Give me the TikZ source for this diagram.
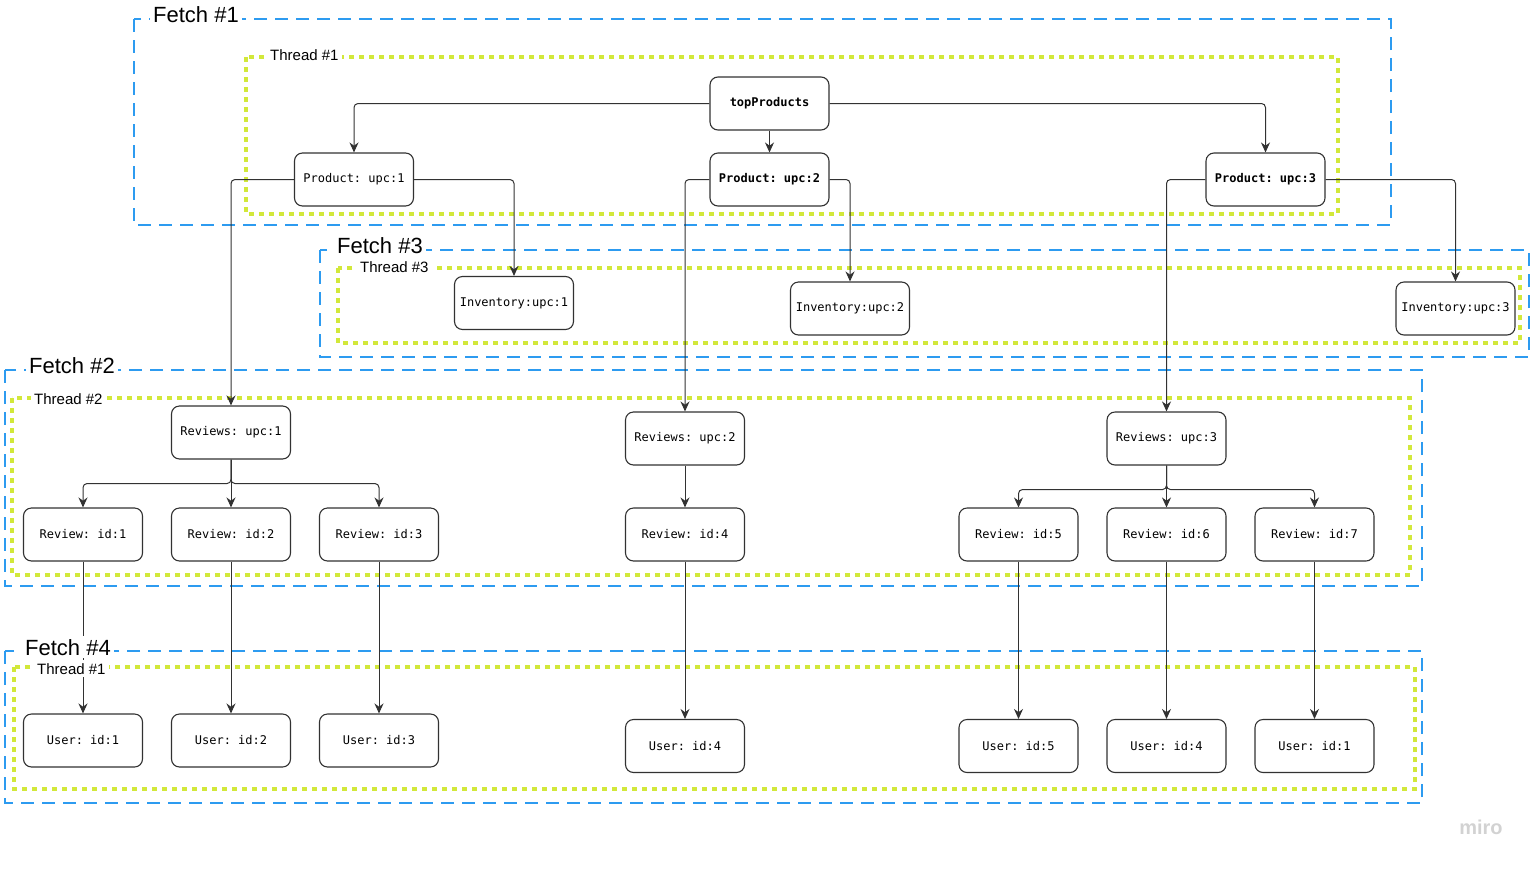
\documentclass[tikz,border=0pt]{standalone}
\usepackage{fontspec}
\setmainfont{Liberation Sans}
\setmonofont{DejaVu Sans Mono}
\usetikzlibrary{arrows.meta}
\definecolor{fetchblue}{RGB}{45,155,240}
\definecolor{threadgreen}{RGB}{210,232,58}
\definecolor{wire}{RGB}{50,50,50}

\begin{document}
\begin{tikzpicture}[x=1pt, y=-1pt, >={Stealth[length=10pt,width=9pt]}, node distance=148pt]
	\tikzstyle{field} = [draw=wire, line width=1.1pt, rounded corners=8pt, fill=white, minimum width=119pt, minimum height=53pt, inner sep=2pt, font=\ttfamily\fontsize{12}{14}\selectfont]
	\tikzstyle{keyfield} = [field, font=\ttfamily\bfseries\fontsize{12}{14}\selectfont]
	\tikzstyle{fetch} = [draw=fetchblue, line width=2.5pt, dash pattern=on 13pt off 8pt]
	\tikzstyle{thread} = [draw=threadgreen, line width=4.5pt, dash pattern=on 5pt off 5pt]
	\tikzstyle{caption} = [fill=white, anchor=base west, inner sep=3pt]
	\tikzstyle{elbow} = [to path={-| (\tikztotarget) \tikztonodes}]
	\tikzstyle{branch} = [to path={-- ++(0,24) -| (\tikztotarget) \tikztonodes}]
	\useasboundingbox (0,0) rectangle (1531,868);
	% fetch and thread frames
	\draw[fetch] (134,19) rectangle (1391,225);
	\draw[thread] (246,57) rectangle (1338,214);
	\draw[fetch] (320,250) rectangle (1529,357);
	\draw[thread] (338,268) rectangle (1520,343);
	\draw[fetch] (5,370) rectangle (1422,586);
	\draw[thread] (12,398) rectangle (1410,575);
	\draw[fetch] (5,651) rectangle (1422,803);
	\draw[thread] (14,667) rectangle (1415,789);
	% fields
	\node[keyfield] (T) at (769.5,103.5) {topProducts};
	\node[field] (P1) at (354,179.5) {Product: upc:1};
	\node[keyfield] (P2) at (769.5,179.5) {Product: upc:2};
	\node[keyfield] (P3) at (1265.5,179.5) {Product: upc:3};
	\node[field] (I1) at (514,303) {Inventory:upc:1};
	\node[field] (I2) at (850,308.5) {Inventory:upc:2};
	\node[field] (I3) at (1455.5,308.5) {Inventory:upc:3};
	\node[field] (R1) at (231,432.5) {Reviews: upc:1};
	\node[field] (R2) at (685,438.5) {Reviews: upc:2};
	\node[field] (R3) at (1166.5,438.5) {Reviews: upc:3};
	\node[field] (V1) at (83,534.5) {Review: id:1};
	\node[field, right of=V1] (V2) {Review: id:2};
	\node[field, right of=V2] (V3) {Review: id:3};
	\node[field] (V4) at (685,534.5) {Review: id:4};
	\node[field] (V5) at (1018.5,534.5) {Review: id:5};
	\node[field, right of=V5] (V6) {Review: id:6};
	\node[field, right of=V6] (V7) {Review: id:7};
	\node[field] (U1) at (83,740.5) {User: id:1};
	\node[field, right of=U1] (U2) {User: id:2};
	\node[field, right of=U2] (U3) {User: id:3};
	\node[field] (U4) at (685,746) {User: id:4};
	\node[field] (U5) at (1018.5,746) {User: id:5};
	\node[field, right of=U5] (U6) {User: id:4};
	\node[field, right of=U6] (U7) {User: id:1};
	% resolution order
	\path[->, color=wire, line width=1pt, rounded corners=4pt]
	  (T.west) edge[elbow] (P1.north)
	  (T.south) edge (P2.north)
	  (T.east) edge[elbow] (P3.north)
	  (P1.west) edge[elbow] (R1.north)
	  (P1.east) edge[elbow] (I1.north)
	  (P2.west) edge[elbow] (R2.north)
	  (P2.east) edge[elbow] (I2.north)
	  (P3.west) edge[elbow] (R3.north)
	  (P3.east) edge[elbow] (I3.north)
	  (R1.south) edge[branch] (V1.north)
	  (R1.south) edge (V2.north)
	  (R1.south) edge[branch] (V3.north)
	  (R2.south) edge (V4.north)
	  (R3.south) edge[branch] (V5.north)
	  (R3.south) edge (V6.north)
	  (R3.south) edge[branch] (V7.north)
	  (V1.south) edge (U1.north)
	  (V2.south) edge (U2.north)
	  (V3.south) edge (U3.north)
	  (V4.south) edge (U4.north)
	  (V5.south) edge (U5.north)
	  (V6.south) edge (U6.north)
	  (V7.south) edge (U7.north)
	  ;
	% frame captions
	\node[caption, font=\fontsize{22}{26}\selectfont] (F1) at (150,22) {Fetch \#1};
	\node[caption, font=\fontsize{15}{18}\selectfont] (H1) at (267,60) {Thread \#1};
	\node[caption, font=\fontsize{22}{26}\selectfont] (F3) at (334,253) {Fetch \#3};
	\node[caption, font=\fontsize{15}{18}\selectfont] (H3) at (357,272) {Thread \#3};
	\node[caption, font=\fontsize{22}{26}\selectfont] (F2) at (26,373) {Fetch \#2};
	\node[caption, font=\fontsize{15}{18}\selectfont] (H2) at (31,404) {Thread \#2};
	\node[caption, font=\fontsize{22}{26}\selectfont] (F4) at (22,655) {Fetch \#4};
	\node[caption, font=\fontsize{15}{18}\selectfont] (H4) at (34,674) {Thread \#1};
	\node[text=gray!35, font=\bfseries\fontsize{20}{24}\selectfont] (logo) at (1481,827) {miro};
\end{tikzpicture}
\end{document}
